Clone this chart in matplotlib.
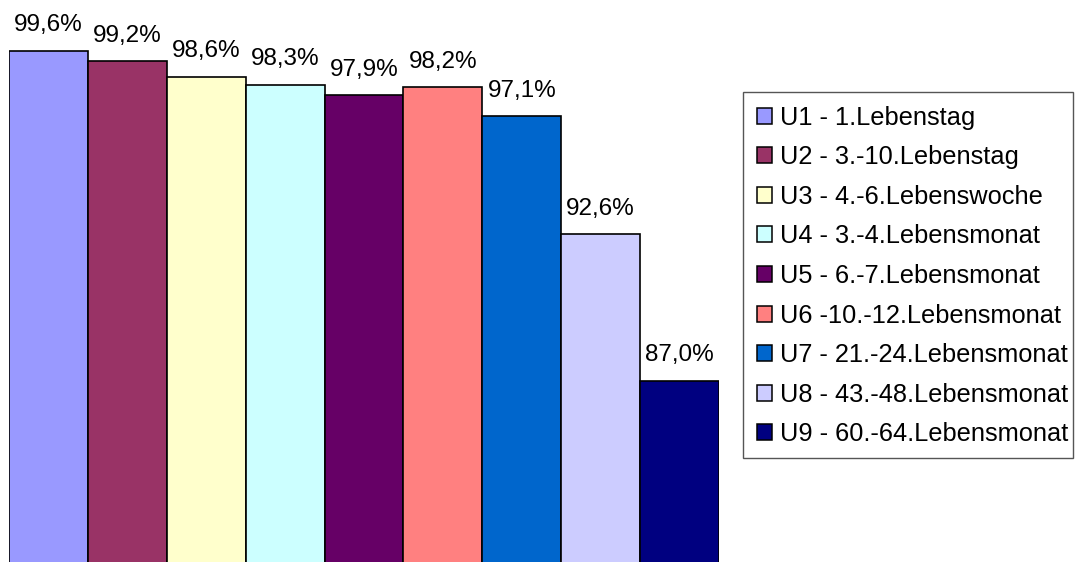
import matplotlib.pyplot as plt
from matplotlib.patches import Patch, Rectangle

labels = ["U1 - 1.Lebenstag", "U2 - 3.-10.Lebenstag", "U3 - 4.-6.Lebenswoche",
          "U4 - 3.-4.Lebensmonat", "U5 - 6.-7.Lebensmonat", "U6 -10.-12.Lebensmonat",
          "U7 - 21.-24.Lebensmonat", "U8 - 43.-48.Lebensmonat", "U9 - 60.-64.Lebensmonat"]
values = [99.6, 99.2, 98.6, 98.3, 97.9, 98.2, 97.1, 92.6, 87.0]
colors = ["#9999FF", "#993366", "#FFFFCC", "#CCFFFF", "#660066",
          "#FF8080", "#0066CC", "#CCCCFF", "#000080"]

plt.rcParams["font.family"] = ["Liberation Sans", "DejaVu Sans"]

W, H = 1075, 562
fig = plt.figure(figsize=(W / 100, H / 100), dpi=100)
ax = fig.add_axes([9 / W, 0, 710 / W, 1])

x = list(range(len(values)))
ax.bar(x, values, width=1.0, color=colors, edgecolor="black", linewidth=1.2)
ax.set_xlim(-0.5, len(values) - 0.5)
ax.set_ylim(80.09, 101.53)
ax.axis("off")

for xi, v in zip(x, values):
    ax.annotate(f"{v:.1f}%".replace(".", ","), (xi, v), xytext=(0, 14),
                textcoords="offset points", ha="center", va="baseline", fontsize=17.5)

# legend entries without frame, frame drawn separately
handles = [Patch(facecolor=c, edgecolor="black", linewidth=1.1) for c in colors]
fig.legend(handles, labels, loc="upper left",
           bbox_to_anchor=(757 / W, 1 - 105.5 / H),
           fontsize=18.3, frameon=False,
           handlelength=0.59, handleheight=0.59, handletextpad=0.3,
           labelspacing=0.614, borderpad=0, borderaxespad=0)
fig.add_artist(Rectangle((743 / W, 1 - 458 / H), 330 / W, 366 / H,
                         transform=fig.transFigure, fill=False,
                         edgecolor="#555555", linewidth=1.0))

plt.savefig("out.png", dpi=100)
